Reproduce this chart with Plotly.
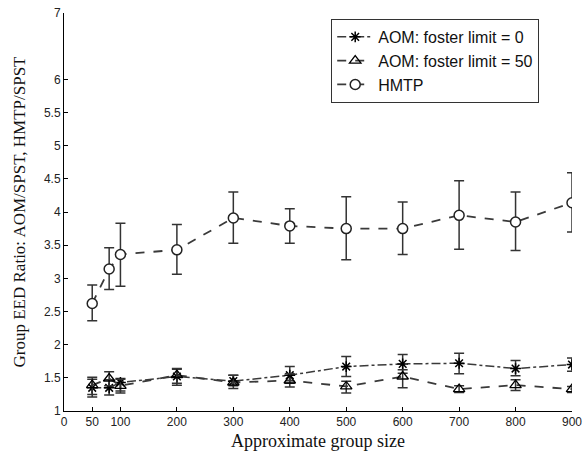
import plotly.graph_objects as go

# Data
x_hmtp = [50, 80, 100, 200, 300, 400, 500, 600, 700, 800, 900]
hmtp = [2.62, 3.14, 3.36, 3.43, 3.91, 3.79, 3.75, 3.75, 3.95, 3.85, 4.14]
hmtp_hi = [2.90, 3.46, 3.83, 3.81, 4.30, 4.05, 4.23, 4.15, 4.47, 4.30, 4.59]
hmtp_lo = [2.36, 2.83, 2.88, 3.06, 3.53, 3.53, 3.28, 3.36, 3.44, 3.42, 3.70]

x_aom = [50, 80, 100, 200, 300, 400, 500, 600, 700, 800, 900]
aom0 = [1.35, 1.35, 1.43, 1.52, 1.45, 1.54, 1.67, 1.71, 1.72, 1.64, 1.70]
aom0_hi = [1.48, 1.47, 1.49, 1.63, 1.54, 1.67, 1.82, 1.85, 1.87, 1.76, 1.80]
aom0_lo = [1.21, 1.24, 1.30, 1.42, 1.38, 1.42, 1.52, 1.57, 1.56, 1.53, 1.60]

aom50 = [1.39, 1.49, 1.38, 1.54, 1.43, 1.46, 1.37, 1.52, 1.33, 1.39, 1.33]
aom50_hi = [1.51, 1.59, 1.48, 1.64, 1.54, 1.56, 1.45, 1.62, 1.38, 1.47, 1.37]
aom50_lo = [1.25, 1.38, 1.27, 1.39, 1.34, 1.36, 1.27, 1.35, 1.28, 1.31, 1.28]

x_ticks = [0, 50, 100, 200, 300, 400, 500, 600, 700, 800, 900]
y_ticks = [1, 1.5, 2, 2.5, 3, 3.5, 4, 4.5, 5, 5.5, 6, 7]
y_tick_text = ["1", "1.5", "2", "2.5", "3", "3.5", "4", "4.5", "5", "5.5", "6", "7"]

names = ["AOM: foster limit = 0", "AOM: foster limit = 50", "HMTP"]

line_col = "#3a3a3a"
err_col = "#333333"


def err(vals, hi, lo):
    return dict(type="data", symmetric=False,
                array=[h - v for h, v in zip(hi, vals)],
                arrayminus=[v - l for v, l in zip(vals, lo)],
                color=err_col, thickness=1.5, width=5)


fig = go.Figure()
fig.add_trace(go.Scatter(
    x=x_aom, y=aom0, name=names[0], mode="lines+markers",
    line=dict(color=line_col, width=1.5, dash="dashdot"),
    marker=dict(symbol="asterisk-open", size=9, color="black",
                line=dict(color="black", width=1.5)),
    error_y=err(aom0, aom0_hi, aom0_lo)))
fig.add_trace(go.Scatter(
    x=x_aom, y=aom50, name=names[1], mode="lines+markers",
    line=dict(color=line_col, width=1.8, dash="dash"),
    marker=dict(symbol="triangle-up-open", size=10, color="black",
                line=dict(color="black", width=1.3)),
    error_y=err(aom50, aom50_hi, aom50_lo)))
fig.add_trace(go.Scatter(
    x=x_hmtp, y=hmtp, name=names[2], mode="lines+markers",
    line=dict(color=line_col, width=1.8, dash="dash"),
    marker=dict(symbol="circle", size=10, color="white",
                line=dict(color="#222222", width=1.5)),
    error_y=err(hmtp, hmtp_hi, hmtp_lo)))

fig.update_layout(
    width=584, height=458,
    margin=dict(l=64, r=12, t=13, b=47),
    paper_bgcolor="white", plot_bgcolor="white",
    font=dict(family="Liberation Sans, Arial", size=12, color="#222222"),
    showlegend=True,
    legend=dict(x=0.526, y=0.985, xanchor="left", yanchor="top",
                bordercolor="#333333", borderwidth=1, bgcolor="white",
                font=dict(family="Liberation Sans, Arial", size=16, color="#111111"),
                tracegroupgap=0, itemwidth=36),
    xaxis=dict(range=[0, 900], tickvals=x_ticks, ticks="inside", ticklen=4,
               tickcolor="black", showline=True, linecolor="black", linewidth=1,
               showgrid=False, zeroline=False, mirror=False, automargin=False,
               tickfont=dict(family="Liberation Sans, Arial", size=12),
               title=dict(text="Approximate group size", standoff=5,
                          font=dict(family="Liberation Serif, Times New Roman", size=18, color="#111111"))),
    yaxis=dict(range=[1, 7], tickvals=y_ticks, ticktext=y_tick_text, ticks="inside",
               ticklen=4, tickcolor="black", showline=True, linecolor="black",
               linewidth=1, showgrid=False, zeroline=False, mirror=False, automargin=False,
               tickfont=dict(family="Liberation Sans, Arial", size=12),
               title=dict(text="Group EED Ratio: AOM/SPST, HMTP/SPST", standoff=13,
                          font=dict(family="Liberation Serif, Times New Roman", size=17, color="#111111"))),
)

fig.write_html("out.html")
